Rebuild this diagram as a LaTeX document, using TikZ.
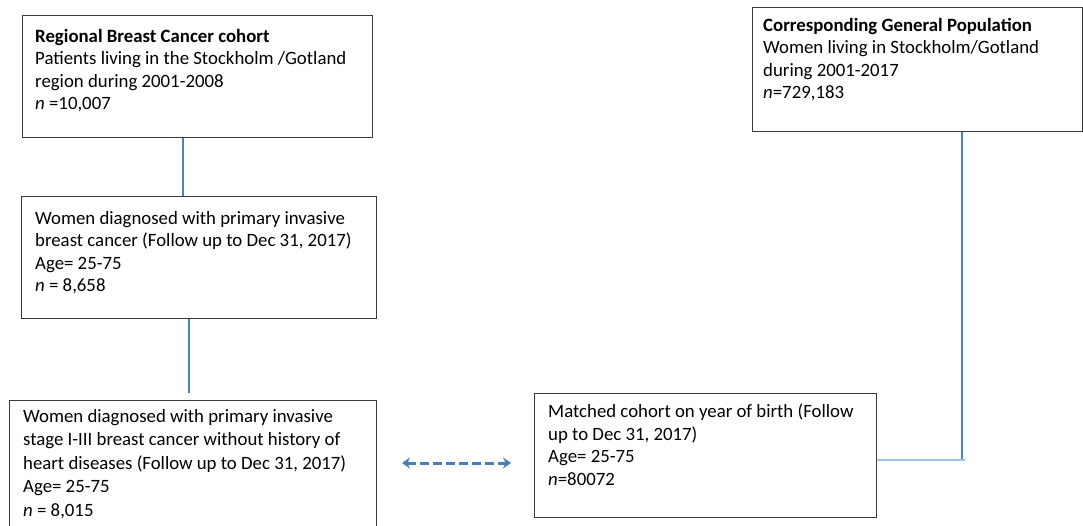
\documentclass[tikz,border=0pt]{standalone}
\usepackage{fontspec}
\setmainfont{Carlito}
\usetikzlibrary{arrows.meta,calc}
\definecolor{boxline}{HTML}{3A3A3A}
\definecolor{conn}{HTML}{4F81BD}
\definecolor{connlight}{HTML}{9DC3E6}
\definecolor{arrowblue}{HTML}{4A7EBB}
\tikzset{
  box/.style={draw=boxline, line width=1.2pt, rectangle, inner sep=0pt, anchor=north west},
  txt/.style={font=\fontsize{18.8}{22.5}\selectfont, align=left, inner sep=0pt, anchor=north west,
    execute at begin node=\rule{0pt}{14pt}},
  connline/.style={draw=conn, line width=1.3pt},
  connlite/.style={draw=connlight, line width=1.6pt},
  dasharrow/.style={draw=arrowblue, line width=3pt, dash pattern=on 9pt off 4pt,
    {Stealth[length=8pt,width=11pt]}-{Stealth[length=8pt,width=11pt]}}
}
\begin{document}
\begin{tikzpicture}[x=1pt,y=-1pt]
\useasboundingbox (0,0) rectangle (1083,525);
\clip (0,0) rectangle (1083,525);
\fill[white] (0,0) rectangle (1083,525);
% boxes
\node[box, minimum width=350pt, minimum height=122pt] (b1) at (22,15) {};
\node[box, minimum width=355pt, minimum height=122pt] (b2) at (21,196) {};
\node[box, minimum width=367pt, minimum height=170pt] (b3) at (9,400) {};
\node[box, minimum width=342pt, minimum height=124pt] (b4) at (534,393) {};
\node[box, minimum width=330pt, minimum height=124pt] (b5) at (752,7) {};
% texts
\node[txt] (t1) at (35,29) {\textbf{Regional Breast Cancer cohort}\\Patients living in the Stockholm /Gotland\\region during 2001-2008\\\textit{n} =10,007};
\node[txt] (t2) at (35,211) {Women diagnosed with primary invasive\\breast cancer (Follow up to Dec 31, 2017)\\Age= 25-75\\\textit{n} = 8,658};
\node[txt, font=\fontsize{18.8}{23.5}\selectfont] (t3) at (23,409) {Women diagnosed with primary invasive\\stage I-III breast cancer without history of\\heart diseases (Follow up to Dec 31, 2017)\\Age= 25-75\\\textit{n} = 8,015};
\node[txt] (t4) at (548,404) {Matched cohort on year of birth (Follow\\up to Dec 31, 2017)\\Age= 25-75\\\textit{n}=80072};
\node[txt] (t5) at (763,18) {\textbf{Corresponding General Population}\\Women living in Stockholm/Gotland\\during 2001-2017\\\textit{n}=729,183};
% connectors
\coordinate (c2) at ($(b3.north -| 189,0)+(0,-7)$);
\coordinate (c3) at (962,460);
\coordinate (c4) at (965,460);
\coordinate (a1) at (402,463);
\coordinate (a2) at (511,463);
\draw[connline] (b1.south -| 183,0) -- (b2.north -| 183,0);
\draw[connline] (b2.south -| 189,0) -- (c2);
\draw[connline] (b5.south -| 962,0) -- (c3);
\draw[connlite] (b4.east |- c4) -- (c4);
\draw[dasharrow] (a1) -- (a2);
\end{tikzpicture}
\end{document}
